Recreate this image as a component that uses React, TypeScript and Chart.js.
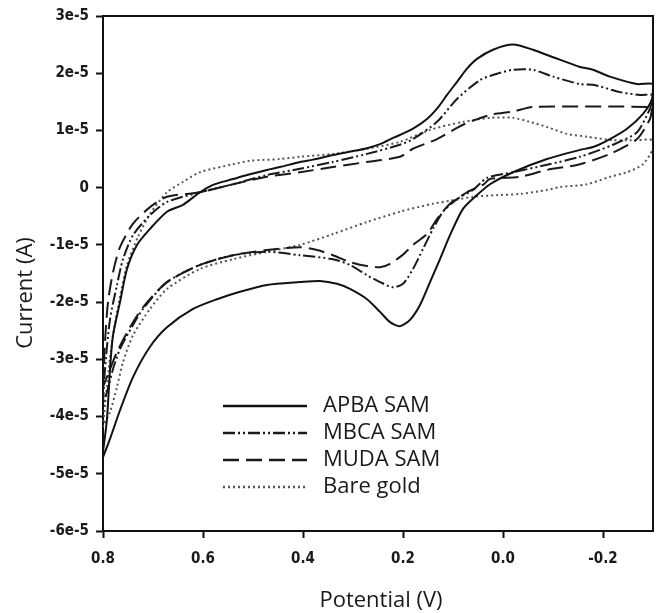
import React, { useEffect, useRef } from "react";
import { Chart, registerables } from "chart.js";

Chart.register(...registerables);

// Potential (V) and current (in units of 1e-5 A)
const apbaPotential = [0.8, 0.792, 0.786, 0.78, 0.766, 0.752, 0.732, 0.706, 0.672, 0.64, 0.606, 0.58, 0.54, 0.512, 0.472, 0.446, 0.406, 0.38, 0.34, 0.312, 0.272, 0.246, 0.22, 0.206, 0.18, 0.152, 0.132, 0.112, 0.092, 0.072, 0.052, 0.02, -0.02, -0.06, -0.1, -0.154, -0.18, -0.214, -0.268, -0.3,
  -0.298, -0.28, -0.248, -0.214, -0.18, -0.154, -0.088, -0.02, 0.026, 0.052, 0.08, 0.106, 0.126, 0.146, 0.166, 0.186, 0.206, 0.226, 0.246, 0.272, 0.306, 0.332, 0.366, 0.406, 0.472, 0.526, 0.572, 0.62, 0.672, 0.706, 0.74, 0.766, 0.786, 0.8];
const apbaCurrent = [-4.62, -4.04, -3.17, -2.58, -2.0, -1.42, -1.0, -0.72, -0.42, -0.3, -0.08, 0.05, 0.15, 0.22, 0.31, 0.36, 0.45, 0.49, 0.57, 0.62, 0.69, 0.76, 0.87, 0.92, 1.03, 1.2, 1.38, 1.62, 1.85, 2.08, 2.25, 2.41, 2.5, 2.41, 2.28, 2.11, 2.06, 1.94, 1.81, 1.81,
  1.55, 1.29, 1.03, 0.85, 0.71, 0.66, 0.5, 0.27, 0.06, -0.13, -0.37, -0.83, -1.25, -1.65, -2.05, -2.31, -2.42, -2.35, -2.17, -1.95, -1.77, -1.68, -1.63, -1.65, -1.7, -1.82, -1.95, -2.12, -2.44, -2.78, -3.31, -3.89, -4.39, -4.71];

const mbcaPotential = [0.8, 0.796, 0.786, 0.772, 0.76, 0.74, 0.706, 0.672, 0.606, 0.54, 0.472, 0.406, 0.34, 0.272, 0.206, 0.18, 0.132, 0.092, 0.046, 0.012, -0.02, -0.06, -0.1, -0.154, -0.18, -0.234, -0.274, -0.3,
  -0.298, -0.294, -0.268, -0.22, -0.154, -0.088, -0.02, 0.032, 0.06, 0.092, 0.12, 0.14, 0.16, 0.18, 0.2, 0.22, 0.246, 0.272, 0.306, 0.34, 0.406, 0.472, 0.54, 0.606, 0.672, 0.72, 0.74, 0.766, 0.78, 0.792, 0.8];
const mbcaCurrent = [-3.78, -3.17, -2.3, -1.7, -1.25, -0.83, -0.48, -0.25, -0.08, 0.06, 0.22, 0.33, 0.45, 0.59, 0.75, 0.85, 1.15, 1.55, 1.88, 1.99, 2.06, 2.06, 1.94, 1.81, 1.8, 1.67, 1.62, 1.62,
  1.5, 1.38, 0.97, 0.75, 0.54, 0.4, 0.27, 0.17, -0.04, -0.2, -0.42, -0.72, -1.07, -1.42, -1.68, -1.74, -1.65, -1.53, -1.35, -1.25, -1.18, -1.12, -1.18, -1.35, -1.65, -2.12, -2.4, -2.82, -3.17, -3.57, -3.78];

const mudaPotential = [0.8, 0.796, 0.79, 0.78, 0.766, 0.74, 0.706, 0.672, 0.606, 0.54, 0.472, 0.406, 0.34, 0.272, 0.206, 0.18, 0.132, 0.08, 0.026, -0.02, -0.06, -0.3,
  -0.298, -0.294, -0.268, -0.214, -0.154, -0.088, -0.034, 0.026, 0.04, 0.072, 0.106, 0.132, 0.152, 0.18, 0.2, 0.226, 0.246, 0.272, 0.306, 0.34, 0.372, 0.406, 0.472, 0.54, 0.606, 0.672, 0.72, 0.746, 0.772, 0.79, 0.8];
const mudaCurrent = [-3.48, -2.7, -2.0, -1.48, -1.04, -0.63, -0.34, -0.16, -0.08, 0.06, 0.19, 0.27, 0.36, 0.45, 0.54, 0.68, 0.85, 1.1, 1.27, 1.33, 1.41, 1.41,
  1.37, 1.2, 0.85, 0.59, 0.41, 0.31, 0.19, 0.15, 0.05, -0.08, -0.28, -0.55, -0.81, -1.0, -1.17, -1.33, -1.39, -1.37, -1.3, -1.18, -1.09, -1.04, -1.09, -1.18, -1.35, -1.65, -2.09, -2.44, -2.87, -3.26, -3.48];

const bareGoldPotential = [0.8, 0.792, 0.78, 0.766, 0.752, 0.73, 0.706, 0.672, 0.64, 0.606, 0.54, 0.506, 0.446, 0.406, 0.34, 0.272, 0.206, 0.146, 0.08, 0.026, -0.02, -0.054, -0.088, -0.128, -0.168, -0.22, -0.268, -0.3,
  -0.3, -0.28, -0.248, -0.214, -0.168, -0.114, -0.088, -0.034, 0.012, 0.06, 0.106, 0.14, 0.206, 0.272, 0.34, 0.406, 0.472, 0.54, 0.606, 0.672, 0.706, 0.74, 0.76, 0.772, 0.786, 0.8];
const bareGoldCurrent = [-4.18, -3.45, -2.58, -1.91, -1.35, -0.86, -0.46, -0.08, 0.1, 0.27, 0.41, 0.47, 0.5, 0.54, 0.59, 0.68, 0.8, 1.01, 1.15, 1.22, 1.22, 1.15, 1.06, 0.94, 0.89, 0.83, 0.83, 0.83,
  0.68, 0.41, 0.27, 0.19, 0.06, 0.01, -0.04, -0.11, -0.13, -0.16, -0.23, -0.28, -0.42, -0.6, -0.81, -1.0, -1.12, -1.25, -1.42, -1.77, -2.12, -2.58, -3.05, -3.48, -3.92, -4.18];

const seriesLabels = ["APBA SAM", "MBCA SAM", "MUDA SAM", "Bare gold"];
const xTickValues = [0.8, 0.6, 0.4, 0.2, 0.0, -0.2];
const yTickValues = [3, 2, 1, 0, -1, -2, -3, -4, -5, -6];
const xTitle = "Potential (V)";
const yTitle = "Current (A)";

const zip = (xs: number[], ys: number[]) => xs.map((x, i) => ({ x, y: ys[i] }));

const TITLE_FONT = "22px 'Open Sans', 'Noto Sans', sans-serif";

const framePlugin = {
  id: "frameAndText",
  afterDraw(chart: any) {
    const { ctx, chartArea } = chart;
    ctx.save();
    // top and right frame lines
    ctx.strokeStyle = "#111";
    ctx.lineWidth = 2;
    ctx.setLineDash([]);
    ctx.beginPath();
    ctx.moveTo(chartArea.left, chartArea.top);
    ctx.lineTo(chartArea.right, chartArea.top);
    ctx.lineTo(chartArea.right, chartArea.bottom);
    ctx.stroke();

    // axis titles
    ctx.fillStyle = "#1a1a1a";
    ctx.font = TITLE_FONT;
    ctx.textAlign = "center";
    ctx.textBaseline = "middle";
    ctx.fillText(xTitle, (chartArea.left + chartArea.right) / 2 + 3, 601);
    ctx.save();
    ctx.translate(26, 293);
    ctx.rotate(-Math.PI / 2);
    ctx.fillText(yTitle, 0, 0);
    ctx.restore();

    // legend
    const rowY = [406, 433, 460, 487];
    chart.data.datasets.forEach((ds: any, i: number) => {
      const y = rowY[i];
      ctx.strokeStyle = ds.borderColor;
      ctx.lineWidth = ds.borderWidth + 0.5;
      ctx.setLineDash(ds.borderDash || []);
      ctx.beginPath();
      ctx.moveTo(223, y);
      ctx.lineTo(307, y);
      ctx.stroke();
      ctx.setLineDash([]);
      ctx.fillStyle = "#1a1a1a";
      ctx.textAlign = "left";
      ctx.fillText(ds.label, 323, y);
    });
    ctx.restore();
  },
};

export default function App() {
  const canvasRef = useRef<HTMLCanvasElement | null>(null);

  useEffect(() => {
    if (!canvasRef.current) return;
    const tickFont = {
      family: "'Liberation Sans Narrow', 'DejaVu Sans Condensed', 'Arial Narrow', sans-serif",
      size: 15,
      weight: "bold" as const,
    };
    const chart = new Chart(canvasRef.current, {
      type: "scatter",
      data: {
        datasets: [
          {
            label: seriesLabels[0],
            data: zip(apbaPotential, apbaCurrent),
            borderColor: "#111",
            borderWidth: 2,
            borderDash: [],
          },
          {
            label: seriesLabels[1],
            data: zip(mbcaPotential, mbcaCurrent),
            borderColor: "#1a1a1a",
            borderWidth: 2,
            borderDash: [12, 3, 2, 3, 2, 3],
          },
          {
            label: seriesLabels[2],
            data: zip(mudaPotential, mudaCurrent),
            borderColor: "#1a1a1a",
            borderWidth: 2,
            borderDash: [16, 7],
          },
          {
            label: seriesLabels[3],
            data: zip(bareGoldPotential, bareGoldCurrent),
            borderColor: "#555",
            borderWidth: 2,
            borderDash: [2, 3],
          },
        ].map((d) => ({
          ...d,
          showLine: true,
          pointRadius: 0,
          pointHoverRadius: 0,
          tension: 0.25,
          fill: false,
        })),
      },
      options: {
        animation: false,
        responsive: true,
        maintainAspectRatio: false,
        events: [],
        layout: { padding: { top: 15, right: 8, left: 0, bottom: 0 } },
        plugins: {
          legend: { display: false },
          tooltip: { enabled: false },
        },
        scales: {
          x: {
            type: "linear",
            reverse: true,
            min: -0.3,
            max: 0.8,
            afterBuildTicks: (scale: any) => {
              scale.ticks = xTickValues.map((v) => ({ value: v }));
            },
            afterFit: (scale: any) => {
              scale.height = 82;
            },
            ticks: {
              font: tickFont,
              color: "#1a1a1a",
              padding: 12,
              maxRotation: 0,
              autoSkip: false,
              callback: (v: any) => Number(v).toFixed(1),
            },
            grid: {
              drawOnChartArea: false,
              drawTicks: true,
              tickLength: 7,
              tickWidth: 2,
              tickColor: "#111",
            },
            border: { display: true, color: "#111", width: 2 },
          },
          y: {
            type: "linear",
            min: -6,
            max: 3,
            afterBuildTicks: (scale: any) => {
              scale.ticks = yTickValues.map((v) => ({ value: v }));
            },
            afterFit: (scale: any) => {
              scale.width = 103;
            },
            ticks: {
              font: tickFont,
              color: "#1a1a1a",
              padding: 7,
              autoSkip: false,
              callback: (v: any) => (Number(v) === 0 ? "0" : `${v}e-5`),
            },
            grid: {
              drawOnChartArea: false,
              drawTicks: true,
              tickLength: 7,
              tickWidth: 2,
              tickColor: "#111",
            },
            border: { display: true, color: "#111", width: 2 },
          },
        },
      },
      plugins: [framePlugin],
    });
    return () => chart.destroy();
  }, []);

  return (
    <div style={{ position: "fixed", left: 0, top: 0, width: 661, height: 613, background: "#fff" }}>
      <canvas ref={canvasRef} />
    </div>
  );
}
